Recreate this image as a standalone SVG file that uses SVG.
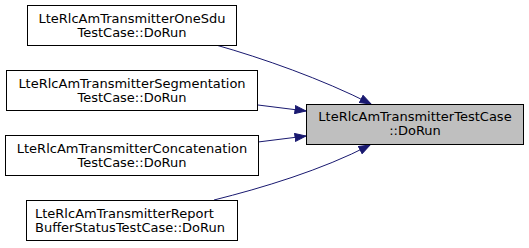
<svg xmlns="http://www.w3.org/2000/svg" width="529" height="248" viewBox="0 0 529 248">
  <style>
    .box { fill: #ffffff; stroke: #000000; stroke-width: 1; }
    .focus { fill: #bfbfbf; stroke: #000000; stroke-width: 1; }
    text { font-family: "DejaVu Sans", sans-serif; font-size: 13px; text-anchor: middle; fill: #000000; }
    text.left { text-anchor: start; }
    .edge { fill: none; stroke: #191970; stroke-width: 1; }
  </style>
  <defs>
    <marker id="arrow" markerWidth="12" markerHeight="9" refX="11.5" refY="4.5" orient="auto" markerUnits="userSpaceOnUse">
      <path d="M0.5,0.5 L11.5,4.5 L0.5,8.5 Z" fill="#191970" stroke="#191970" stroke-width="1"/>
    </marker>
  </defs>

  <g id="connectors">
    <path class="edge" marker-end="url(#arrow)" d="M216,45 C262,58 322,79 371,104"/>
    <path class="edge" marker-end="url(#arrow)" d="M258,105 C274,107 290,109 306,111"/>
    <path class="edge" marker-end="url(#arrow)" d="M258,142 C274,140 290,138 306,136"/>
    <path class="edge" marker-end="url(#arrow)" d="M214,200 C262,188 322,170 370,145"/>
  </g>

  <g id="node-target">
    <rect class="focus" x="306.5" y="104.5" width="217" height="40"/>
    <text x="415" y="121">LteRlcAmTransmitterTestCase</text>
    <text x="415" y="135">::DoRun</text>
  </g>

  <g id="node-onesdu">
    <rect class="box" x="27.5" y="5.5" width="209" height="40"/>
    <text x="132" y="23">LteRlcAmTransmitterOneSdu</text>
    <text x="132" y="37">TestCase::DoRun</text>
  </g>

  <g id="node-segmentation">
    <rect class="box" x="6.5" y="70.5" width="251" height="40"/>
    <text x="132" y="88">LteRlcAmTransmitterSegmentation</text>
    <text x="132" y="102">TestCase::DoRun</text>
  </g>

  <g id="node-concatenation">
    <rect class="box" x="5.5" y="135.5" width="253" height="40"/>
    <text x="132" y="153">LteRlcAmTransmitterConcatenation</text>
    <text x="132" y="167">TestCase::DoRun</text>
  </g>

  <g id="node-report">
    <rect class="box" x="26.5" y="200.5" width="211" height="40"/>
    <text class="left" x="35" y="218">LteRlcAmTransmitterReport</text>
    <text class="left" x="35" y="232">BufferStatusTestCase::DoRun</text>
  </g>
</svg>
